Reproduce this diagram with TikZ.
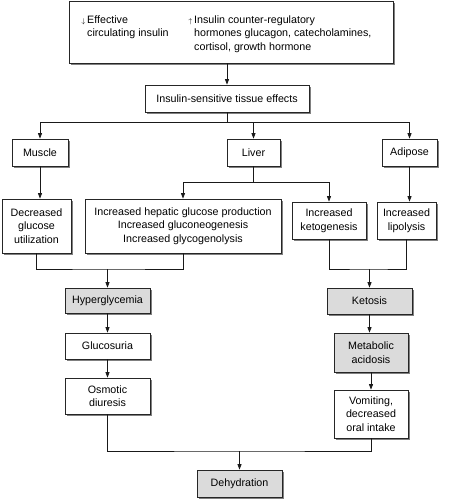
\documentclass[tikz,border=0pt]{standalone}
\usepackage{fontspec}
\setmainfont{Liberation Sans}
\usetikzlibrary{arrows.meta,shadows}
\begin{document}
\begin{tikzpicture}[x=1pt,y=-1pt,
 font=\fontsize{10.7}{13.5}\selectfont,
 box/.style={draw=black!85, line width=0.7pt, fill=white, align=center, inner sep=0pt,
   drop shadow={shadow xshift=2pt, shadow yshift=-2pt, fill=black!50, opacity=1}},
 gbox/.style={box, fill=black!14},
 txt/.style={inner sep=0pt, align=left, anchor=north west},
 conn/.style={line width=0.8pt, draw=black!90},
 arr/.style={conn, -{Triangle[length=5.5pt,width=4pt]}}]
\useasboundingbox (0,0) rectangle (455,500);

\node[box, minimum width=324pt, minimum height=62pt] (top) at (231,32) {};
\node[txt] (topL) at (87,15.5) {\llap{$\scriptstyle\downarrow$\,}Effective\\circulating insulin};
\node[txt] (topR) at (194,15.5) {\llap{$\scriptstyle\uparrow$\,}Insulin counter-regulatory\\hormones glucagon, catecholamines,\\cortisol, growth hormone};

\node[box, minimum width=164pt, minimum height=27pt] (ins) at (227,98.5) {Insulin-sensitive tissue effects};
\node[box, minimum width=56pt, minimum height=27pt] (muscle) at (40,152.5) {Muscle};
\node[box, minimum width=53pt, minimum height=27pt] (liver) at (253.5,152.5) {Liver};
\node[box, minimum width=55pt, minimum height=27pt] (adipose) at (409.5,152.5) {Adipose};

\node[box, minimum width=69pt, minimum height=54pt] (decr) at (36.5,226) {Decreased\\glucose\\utilization};
\node[box, minimum width=196pt, minimum height=54pt] (hep) at (183,226) {Increased hepatic glucose production\\Increased gluconeogenesis\\Increased glycogenolysis};
\node[box, minimum width=74pt, minimum height=37pt] (keto) at (329,220.5) {Increased\\ketogenesis};
\node[box, minimum width=59pt, minimum height=37pt] (lipo) at (406.5,220.5) {Increased\\lipolysis};

\node[gbox, minimum width=85pt, minimum height=25pt] (hyper) at (107.5,300.5) {Hyperglycemia};
\node[gbox, minimum width=85pt, minimum height=26pt] (ketosis) at (369.5,301) {Ketosis};
\node[box, minimum width=85pt, minimum height=26pt] (gluc) at (107.5,346) {Glucosuria};
\node[box, minimum width=85pt, minimum height=36pt] (osm) at (107.5,396) {Osmotic\\diuresis};
\node[gbox, minimum width=74pt, minimum height=39pt] (meta) at (371,352.5) {Metabolic\\acidosis};
\node[box, minimum width=74pt, minimum height=48pt] (vom) at (371,414) {Vomiting,\\decreased\\oral intake};
\node[gbox, minimum width=85pt, minimum height=27pt] (dehyd) at (239.5,483.5) {Dehydration};

% connectors
\draw[arr] (ins.north |- top.south) -- (ins.north);
\coordinate (j1) at (227,122);
\draw[conn] (ins.south) -- (j1);
\draw[arr] (j1) -| (muscle.north);
\draw[arr] (j1) -| (adipose.north);
\draw[arr] (j1) -| (liver.north);

\draw[arr] (muscle.south) -- (muscle.south |- decr.north);
\coordinate (j2) at (253.5,182);
\draw[conn] (liver.south) -- (j2);
\draw[arr] (j2) -| (hep.north);
\draw[arr] (j2) -| (keto.north);
\draw[arr] (adipose.south) -- (adipose.south |- lipo.north);

\coordinate (j3) at (107.5,269);
\draw[conn] (decr.south) |- (j3) -| (hep.south);
\draw[arr] (j3) -- (hyper.north);
\coordinate (j4) at (369.5,269);
\draw[conn] (keto.south) |- (j4) -| (lipo.south);
\draw[arr] (j4) -- (ketosis.north);

\draw[arr] (hyper.south) -- (gluc.north);
\draw[arr] (gluc.south) -- (osm.north);
\draw[arr] (ketosis.south) -- (ketosis.south |- meta.north);
\draw[arr] (meta.south) -- (vom.north);

\coordinate (j5) at (239.5,451);
\draw[conn] (osm.south) |- (j5) -| (vom.south);
\draw[arr] (j5) -- (dehyd.north);
\end{tikzpicture}
\end{document}
